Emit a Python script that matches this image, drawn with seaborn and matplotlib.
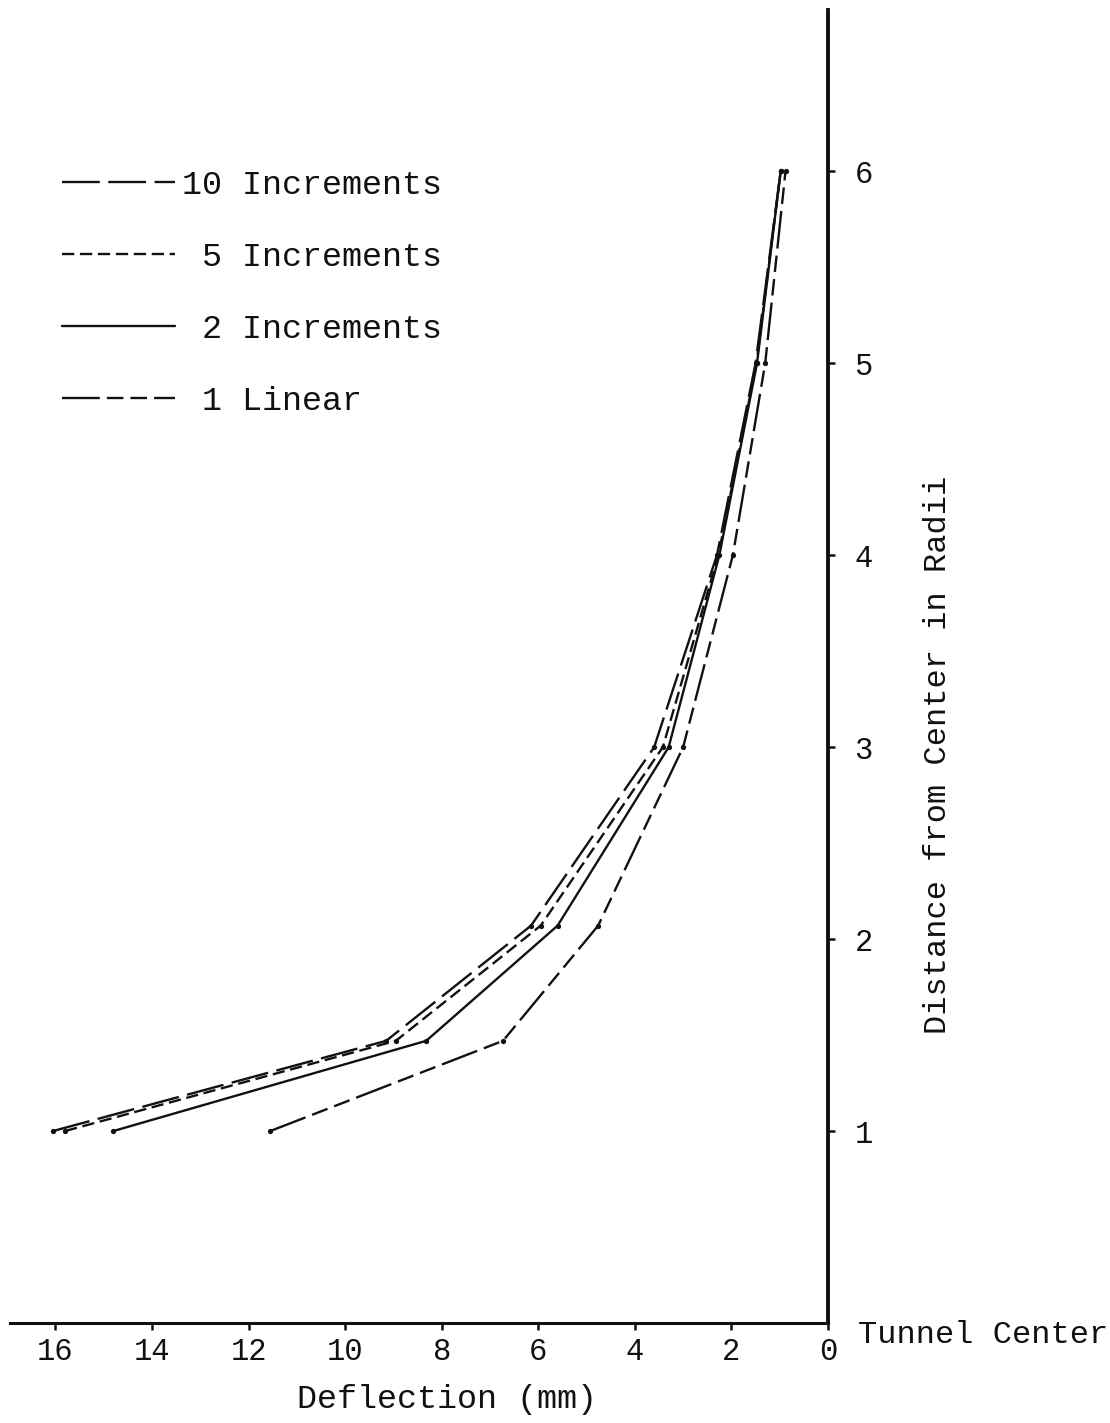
import matplotlib
matplotlib.use("Agg")
import matplotlib.pyplot as plt
import seaborn as sns
import pandas as pd
from matplotlib.lines import Line2D

# ---- data ----
distance_radii = [1.0, 1.47, 2.07, 3.0, 4.0, 5.0, 6.0]
defl_10_increments = [16.05, 9.15, 6.15, 3.60, 2.30, 1.50, 0.98]
defl_5_increments = [15.80, 8.95, 5.95, 3.42, 2.27, 1.48, 0.98]
defl_2_increments = [14.80, 8.32, 5.60, 3.30, 2.25, 1.47, 0.98]
defl_1_linear = [11.55, 6.73, 4.76, 3.00, 1.97, 1.30, 0.88]

series_names = ["10 Increments", " 5 Increments", " 2 Increments", " 1 Linear"]
series_values = [defl_10_increments, defl_5_increments, defl_2_increments, defl_1_linear]
x_ticks = [16, 14, 12, 10, 8, 6, 4, 2, 0]
y_ticks = [1, 2, 3, 4, 5, 6]

LW = 1.7
dash_styles = [(16, 3.6), (5.2, 2.4), "", (16, 3, 7, 3, 7, 3)]

sns.set_theme(style="white")
plt.rcParams["font.family"] = ["Liberation Mono", "DejaVu Sans Mono"]

fig = plt.figure(figsize=(11.10, 14.23), dpi=100)
ax = fig.add_axes([10/1110, 100/1423, 818/1110, 1313/1423])

ink = "#111111"
handles = []
for name, vals, ds in zip(series_names, series_values, dash_styles):
    df = pd.DataFrame({"Deflection": vals, "Distance": distance_radii})
    sns.lineplot(data=df, x="Deflection", y="Distance", sort=False, estimator=None,
                 ax=ax, color=ink, lw=LW, marker="o", markersize=3.8,
                 markeredgewidth=0, legend=False)
    line = ax.lines[-1]
    if ds == "":
        line.set_linestyle("-")
    else:
        line.set_dashes(ds)
    h = Line2D([], [], color=ink, lw=LW)
    if ds == "":
        h.set_linestyle("-")
    else:
        h.set_dashes(ds)
    handles.append(h)

ax.set_xlim(16.94, 0)
ax.set_ylim(0, 6.84)

ax.set_xticks(x_ticks)
ax.set_xticklabels([str(t) for t in x_ticks])
ax.set_yticks(y_ticks)
ax.set_yticklabels([str(t) for t in y_ticks])

ax.yaxis.tick_right()
ax.yaxis.set_label_position("right")

for s in ["top", "left"]:
    ax.spines[s].set_visible(False)
ax.spines["bottom"].set_linewidth(2.2)
ax.spines["right"].set_linewidth(2.8)
ax.spines["bottom"].set_color(ink)
ax.spines["right"].set_color(ink)

ax.tick_params(axis="x", direction="out", length=5, width=1.8, colors=ink,
               labelsize=22, pad=5, bottom=True)
ax.tick_params(axis="y", direction="out", length=5, width=1.8, colors=ink,
               labelsize=22, pad=14, right=True, left=False)

ax.set_xlabel("Deflection (mm)", fontsize=24, color=ink)
ax.xaxis.set_label_coords(0.534, -0.0586)
ax.xaxis.label.set_va("center")

ax.set_ylabel("Distance from Center in Radii", fontsize=23, color=ink, rotation=90)
ax.yaxis.set_label_coords(1.134, 0.4326)
ax.yaxis.label.set_va("center")

ax.text(1.0 + 30/818, -12/1313, "Tunnel Center", transform=ax.transAxes,
        fontsize=23, color=ink, ha="left", va="center", clip_on=False)

ax.legend(handles, series_names, loc="upper left",
          bbox_to_anchor=((62-10)/818, (1323-170)/1313),
          frameon=False, fontsize=24, handlelength=3.4, handletextpad=0.2,
          labelspacing=1.23, borderpad=0, borderaxespad=0)
for t in ax.get_legend().get_texts():
    t.set_color(ink)

ax.grid(False)
fig.savefig("out.png", dpi=100, facecolor="white")
